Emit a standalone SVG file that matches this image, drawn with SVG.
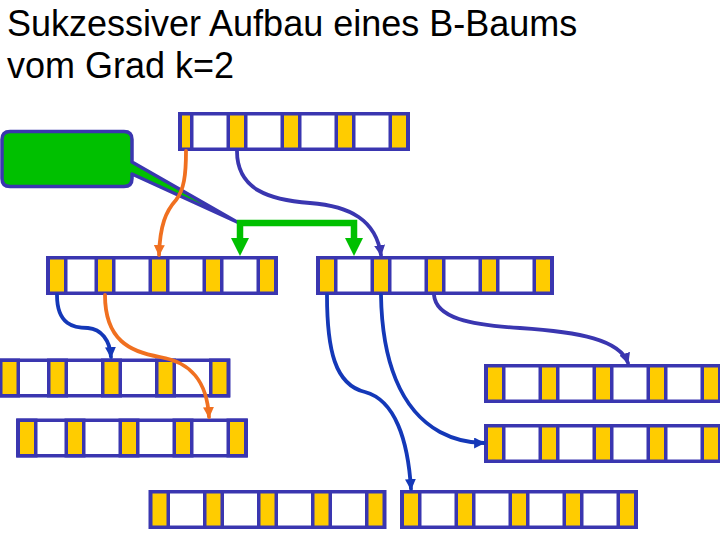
<svg xmlns="http://www.w3.org/2000/svg" xmlns:xlink="http://www.w3.org/1999/xlink" width="720" height="540" viewBox="0 0 720 540">
<style>
.title{font-family:"Liberation Sans",Arial,sans-serif;font-size:36px;fill:#000}
.box{fill:#fff;stroke:#3a36b0;stroke-width:3.5}
.key{fill:#ffcc00;stroke:#3a36b0;stroke-width:3.5}
.con{fill:none;stroke-width:3.8;stroke-linecap:round}
.orange{stroke:#f07020}
.blue{stroke:#3a36b0}
.dblue{stroke:#1438b8}
</style>
<defs>
<marker id="aO" viewBox="0 0 10 10" refX="9" refY="5" markerWidth="11" markerHeight="11" markerUnits="userSpaceOnUse" orient="auto"><path d="M0,0 L10,5 L0,10 Z" fill="#f07020"/></marker>
<marker id="aB" viewBox="0 0 10 10" refX="9" refY="5" markerWidth="11" markerHeight="11" markerUnits="userSpaceOnUse" orient="auto"><path d="M0,0 L10,5 L0,10 Z" fill="#3a36b0"/></marker>
<marker id="aD" viewBox="0 0 10 10" refX="9" refY="5" markerWidth="11" markerHeight="11" markerUnits="userSpaceOnUse" orient="auto"><path d="M0,0 L10,5 L0,10 Z" fill="#1438b8"/></marker>
<g id="nodeR">
<rect class="box" x="1.75" y="1.75" width="234.5" height="35.5"/>
<rect class="key" x="2.25" y="1.75" width="17.5" height="35.5"/>
<rect class="key" x="56.25" y="1.75" width="17.5" height="35.5"/>
<rect class="key" x="110.25" y="1.75" width="17.5" height="35.5"/>
<rect class="key" x="164.25" y="1.75" width="17.5" height="35.5"/>
<rect class="key" x="218.25" y="1.75" width="17.5" height="35.5"/>
</g>
<g id="nodeL">
<rect class="box" x="1.75" y="1.75" width="228.5" height="35.5"/>
<rect class="key" x="2.25" y="1.75" width="17.5" height="35.5"/>
<rect class="key" x="50.25" y="1.75" width="17.5" height="35.5"/>
<rect class="key" x="104.25" y="1.75" width="17.5" height="35.5"/>
<rect class="key" x="158.25" y="1.75" width="17.5" height="35.5"/>
<rect class="key" x="212.25" y="1.75" width="17.5" height="35.5"/>
</g>
<g id="nodeT">
<rect class="box" x="1.75" y="1.75" width="228.5" height="35.5"/>
<rect class="key" x="2.25" y="1.75" width="11.5" height="35.5"/>
<rect class="key" x="50.25" y="1.75" width="17.5" height="35.5"/>
<rect class="key" x="104.25" y="1.75" width="17.5" height="35.5"/>
<rect class="key" x="158.25" y="1.75" width="17.5" height="35.5"/>
<rect class="key" x="212.25" y="1.75" width="17.5" height="35.5"/>
</g>
</defs>
<rect width="720" height="540" fill="#fff"/>
<g id="title">
<text class="title" x="7" y="36">Sukzessiver Aufbau eines B-Baums</text>
<text class="title" x="7" y="78">vom Grad k=2</text>
</g>
<g id="node-root" transform="translate(178,112)"><use xlink:href="#nodeT"/></g>
<g id="node-mid-left" transform="translate(46,256)"><use xlink:href="#nodeL"/></g>
<g id="node-mid-right" transform="translate(316,256)"><use xlink:href="#nodeR"/></g>
<g id="node-left-1" transform="translate(-1.5,358.5)"><use xlink:href="#nodeL"/></g>
<g id="node-left-2" transform="translate(16,418.5)"><use xlink:href="#nodeL"/></g>
<g id="node-right-1" transform="translate(484,364)"><use xlink:href="#nodeR"/></g>
<g id="node-right-2" transform="translate(484,424)"><use xlink:href="#nodeR"/></g>
<g id="node-bottom-left" transform="translate(148.5,490)"><use xlink:href="#nodeR"/></g>
<g id="node-bottom-right" transform="translate(400,490)"><use xlink:href="#nodeR"/></g>
<g id="callout">
<path d="M10,131.5 H124 Q132,131.5 132,139.5 V162 L237,222 L132,174 V178.5 Q132,186.5 124,186.5 H10 Q2,186.5 2,178.5 V139.5 Q2,131.5 10,131.5 Z" fill="#00c000" stroke="#3a36b0" stroke-width="3.5" stroke-linejoin="round"/>
</g>
<g id="split-arrows">
<path d="M240,240 V223 H354 V240" fill="none" stroke="#00c000" stroke-width="6.5"/>
<path d="M231,238 H249 L240,256 Z" fill="#00c000"/>
<path d="M345,238 H363 L354,256 Z" fill="#00c000"/>
</g>
<g id="connectors">
<path class="con orange" d="M186,151 C186,175 184,190 176,200 C166,211 160,225 159,255" marker-end="url(#aO)"/>
<path class="con blue" d="M237,151 C237,190 270,200 310,203 C350,206 376,220 381,255" marker-end="url(#aB)"/>
<path class="con dblue" d="M57,295 C57,325 74,328 88,328 C101,329 110,340 111,357" marker-end="url(#aD)"/>
<path class="con orange" d="M105,295 C105,340 130,352 160,357 C190,362 207,380 209,417" marker-end="url(#aO)"/>
<path class="con dblue" d="M327,295 C327,350 335,385 365,392 C395,400 408,440 411,489" marker-end="url(#aD)"/>
<path class="con dblue" d="M381,295 C382,360 400,410 440,432 C455,440 470,443 484,443" marker-end="url(#aD)"/>
<path class="con blue" d="M434,295 C436,318 470,325 520,328 C580,332 620,340 628,363" marker-end="url(#aB)"/>
</g>
</svg>
